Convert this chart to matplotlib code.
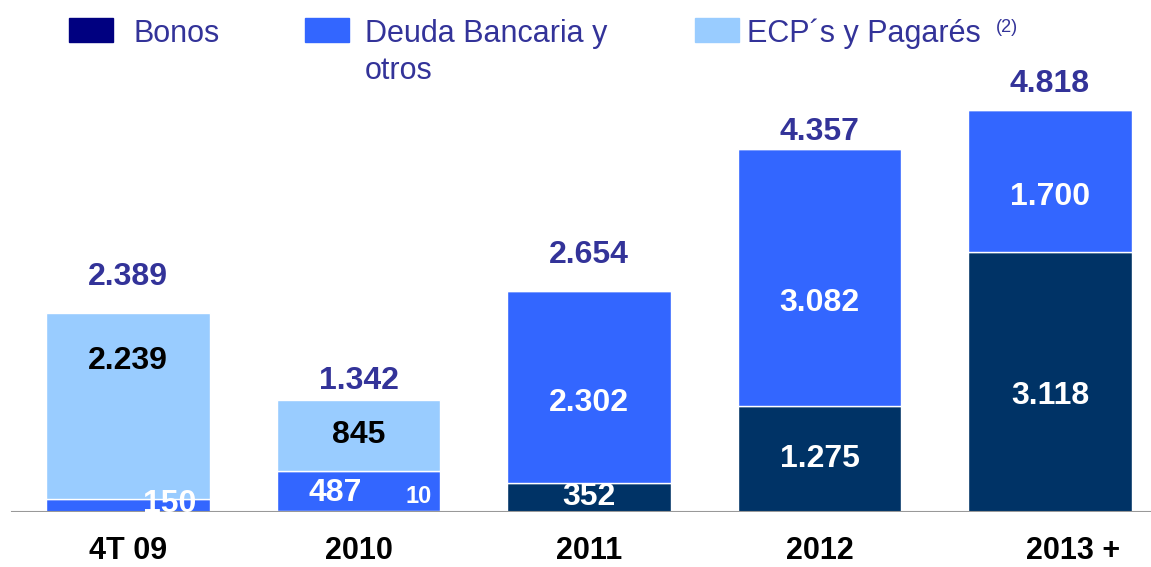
import numpy as np
import matplotlib
matplotlib.use("Agg")
import matplotlib.pyplot as plt
from matplotlib.patches import Rectangle
from matplotlib.transforms import ScaledTranslation

plt.rcParams['font.family'] = ['Liberation Sans', 'DejaVu Sans']

categories = ["4T 09", "2010", "2011", "2012", "2013 +"]
bonos = [0, 10, 352, 1275, 3118]
deuda = [150, 487, 2302, 3082, 1700]
ecp = [2239, 845, 0, 0, 0]
totals = [2389, 1342, 2654, 4357, 4818]

# offsets (points) of the total labels above each bar
total_offsets = [26, 14, 26, 12, 19]

c_bonos = "#003366"
c_deuda = "#3366FF"
c_ecp = "#99CCFF"
c_text = "#333399"

fig = plt.figure(figsize=(11.51, 5.67), dpi=100)
ax = fig.add_axes([0.0, 0.097, 1.0, 0.903])

x = np.arange(len(categories))
w = 0.711
b = np.array(bonos)
d = np.array(deuda)
e = np.array(ecp)

ax.bar(x, b, w, color=c_bonos, edgecolor="white", linewidth=1)
ax.bar(x, d, w, bottom=b, color=c_deuda, edgecolor="white", linewidth=1)
ax.bar(x, e, w, bottom=b + d, color=c_ecp, edgecolor="white", linewidth=1)

ax.set_xlim(-0.555, 4.438)
ax.set_ylim(0, 6140)
ax.axhline(0, xmin=12 / 1151, xmax=1, color="#999999", linewidth=1.5, zorder=5)

fs = 23
# totals above bars
for i, t in enumerate(totals):
    ax.annotate(f"{t/1000:.3f}", (x[i], t), xytext=(0, total_offsets[i]), textcoords="offset points",
                ha="center", va="center", fontsize=fs, fontweight="bold", color=c_text)

# segment labels
ax.text(x[0], 1810, "2.239", ha="center", va="center", fontsize=fs, fontweight="bold", color="black")
ax.text(x[0] + 0.18, 100, "150", ha="center", va="center", fontsize=fs, fontweight="bold", color="white", zorder=6)
ax.text(x[1], b[1] + d[1] + e[1] / 2, "845", ha="center", va="center", fontsize=fs, fontweight="bold", color="black")
ax.text(x[1] - 0.1, 230, "487", ha="center", va="center", fontsize=fs, fontweight="bold", color="white")
ax.text(x[1] + 0.26, 180, "10", ha="center", va="center", fontsize=17, fontweight="bold", color="white")
ax.text(x[2], b[2] / 2, "352", ha="center", va="center", fontsize=fs, fontweight="bold", color="white")
ax.text(x[2], 1307, "2.302", ha="center", va="center", fontsize=fs, fontweight="bold", color="white")
ax.text(x[3], b[3] / 2, "1.275", ha="center", va="center", fontsize=fs, fontweight="bold", color="white")
ax.text(x[3], 2506, "3.082", ha="center", va="center", fontsize=fs, fontweight="bold", color="white")
ax.text(x[4], 1391, "3.118", ha="center", va="center", fontsize=fs, fontweight="bold", color="white")
ax.text(x[4], 3777, "1.700", ha="center", va="center", fontsize=fs, fontweight="bold", color="white")

ax.set_xticks(x)
ax.set_xticklabels(categories, fontsize=22, fontweight="bold", color="black")
ax.tick_params(axis="x", length=0, pad=17)
ax.set_yticks([])
for s in ax.spines.values():
    s.set_visible(False)
lbl = ax.get_xticklabels()[-1]
lbl.set_transform(lbl.get_transform() + ScaledTranslation(0.23, 0, fig.dpi_scale_trans))

# legend
def legend_box(px, color):
    fig.add_artist(Rectangle((px / 1151, (567 - 42) / 567), 44 / 1151, 24 / 567,
                             transform=fig.transFigure, color=color))

legend_box(69, "#000080")
legend_box(305, c_deuda)
legend_box(695, c_ecp)
lfs = 22
fig.text(133 / 1151, 1 - 34 / 567, "Bonos", fontsize=lfs, color=c_text, va="center")
fig.text(365 / 1151, 1 - 34 / 567, "Deuda Bancaria y", fontsize=lfs, color=c_text, va="center")
fig.text(365 / 1151, 1 - 71 / 567, "otros", fontsize=lfs, color=c_text, va="center")
fig.text(747 / 1151, 1 - 34 / 567, "ECP´s y Pagarés", fontsize=lfs, color=c_text, va="center")
fig.text(996 / 1151, 1 - 27 / 567, "(2)", fontsize=13, color=c_text, va="center")

fig.savefig("out.png", dpi=100)
